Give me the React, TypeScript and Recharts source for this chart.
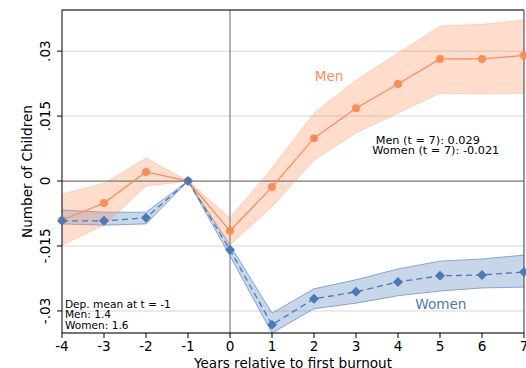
import React from "react";
import {
  ComposedChart,
  Area,
  Line,
  XAxis,
  YAxis,
  CartesianGrid,
  ReferenceLine,
  ReferenceDot,
} from "recharts";

const years = [-4, -3, -2, -1, 0, 1, 2, 3, 4, 5, 6, 7];

const menCoef = [-0.009, -0.0051, 0.0021, 0, -0.0115, -0.0014, 0.0099, 0.0168, 0.0224, 0.0282, 0.0282, 0.029];
const menLo = [-0.0148, -0.0102, -0.0012, 0, -0.0148, -0.006, 0.0048, 0.0111, 0.0157, 0.0203, 0.0201, 0.0203];
const menHi = [-0.003, -0.0005, 0.0053, 0, -0.0085, 0.003, 0.0157, 0.0233, 0.0295, 0.0358, 0.0362, 0.0372];

const womenCoef = [-0.0092, -0.0092, -0.0085, 0, -0.0159, -0.0332, -0.0272, -0.0256, -0.0233, -0.0219, -0.0217, -0.021];
const womenLo = [-0.0099, -0.0102, -0.0099, 0, -0.0173, -0.0351, -0.0295, -0.0282, -0.0265, -0.0254, -0.0247, -0.0245];
const womenHi = [-0.0067, -0.0072, -0.0072, 0, -0.0148, -0.0305, -0.0249, -0.0228, -0.0203, -0.0185, -0.018, -0.0171];

const yTicks = [-0.03, -0.015, 0, 0.015, 0.03];
const yTickLabels = ["-.03", "-.015", "0", ".015", ".03"];

const data = years.map((t, i) => ({
  t,
  men: menCoef[i],
  menBand: [menLo[i], menHi[i]],
  women: womenCoef[i],
  womenBand: [womenLo[i], womenHi[i]],
}));

const MEN = "#fc8d59";
const WOMEN = "#4a78b8";
const FONT = "DejaVu Sans";
const FS = 13.6;

const YTick = ({ x, y, payload }: any) => {
  const idx = yTicks.indexOf(payload.value);
  const px = x - 5;
  return (
    <text x={px} y={y} transform={`rotate(-90 ${px} ${y})`} textAnchor="middle" fontSize={FS} fontFamily={FONT} fill="#000">
      {idx >= 0 ? yTickLabels[idx] : payload.value}
    </text>
  );
};

const Diamond = ({ cx, cy }: any) => (
  <path d={`M${cx},${cy - 5} L${cx + 5},${cy} L${cx},${cy + 5} L${cx - 5},${cy} Z`} fill={WOMEN} />
);

const note = (lines: string[], size: number, color: string, anchor: string) => (props: any) => (
  <text x={props.cx} y={props.cy} textAnchor={anchor} fontSize={size} fontFamily={FONT} fill={color}>
    {lines.map((l, i) => (
      <tspan key={i} x={props.cx} dy={i === 0 ? 0 : size}>{l}</tspan>
    ))}
  </text>
);

export default function App() {
  return (
    <div style={{ position: "absolute", left: 0, top: 0 }}>
      <ComposedChart width={526} height={368} data={data} margin={{ top: 10, right: 2, left: 0, bottom: 0 }}>
        <CartesianGrid vertical={false} stroke="#e3e3e3" strokeWidth={1.5} />
        <XAxis
          dataKey="t"
          type="number"
          domain={[-4, 7]}
          ticks={years}
          interval={0}
          height={35}
          tickSize={5}
          tickMargin={3}
          stroke="#000"
          tick={{ fill: "#000", fontSize: FS, fontFamily: FONT }}
          label={{ value: "Years relative to first burnout", position: "insideBottom", offset: 0, fill: "#000", fontSize: FS, fontFamily: FONT }}
        />
        <YAxis
          type="number"
          domain={[-0.0351, 0.0395]}
          ticks={yTicks}
          width={62}
          tickSize={5}
          tickMargin={2}
          stroke="#000"
          tick={<YTick />}
          label={({ viewBox }: any) => {
            const cx = viewBox.x + 32;
            const cy = viewBox.y + viewBox.height / 2;
            return (
              <text x={cx} y={cy} transform={`rotate(-90 ${cx} ${cy})`} textAnchor="middle" fontSize={FS} fontFamily={FONT} fill="#000">
                Number of Children
              </text>
            );
          }}
        />
        <ReferenceLine y={0} stroke="#808080" strokeWidth={1.2} />
        <ReferenceLine x={0} stroke="#808080" strokeWidth={1.2} />
        <ReferenceLine y={0.0395} stroke="#000" strokeWidth={1.2} />
        <ReferenceLine x={7} stroke="#555" strokeWidth={1.2} />
        <Area dataKey="womenBand" type="linear" fill={WOMEN} fillOpacity={0.3} stroke={WOMEN} strokeOpacity={0.6} strokeWidth={1} isAnimationActive={false} />
        <Area dataKey="menBand" type="linear" fill={MEN} fillOpacity={0.3} stroke={MEN} strokeOpacity={0.3} strokeWidth={1} isAnimationActive={false} />
        <Line dataKey="men" type="linear" stroke={MEN} strokeWidth={1.3} dot={{ r: 4, fill: MEN, stroke: "none" }} isAnimationActive={false} />
        <Line dataKey="women" type="linear" stroke={WOMEN} strokeWidth={1.3} strokeDasharray="6 4" dot={<Diamond />} isAnimationActive={false} />
        <ReferenceDot x={2.36} y={0.0232} r={0} shape={note(["Men"], FS, MEN, "middle")} />
        <ReferenceDot x={5.02} y={-0.0295} r={0} shape={note(["Women"], FS, WOMEN, "middle")} />
        <ReferenceDot x={4.71} y={0.0086} r={0} shape={note(["Men (t = 7): 0.029"], 11.3, "#000", "middle")} />
        <ReferenceDot x={4.9} y={0.0063} r={0} shape={note(["Women (t = 7): -0.021"], 11.3, "#000", "middle")} />
        <ReferenceDot x={-3.93} y={-0.0293} r={0} shape={note(["Dep. mean at t = -1", "Men: 1.4", "Women: 1.6"], 10.6, "#000", "start")} />
      </ComposedChart>
    </div>
  );
}
